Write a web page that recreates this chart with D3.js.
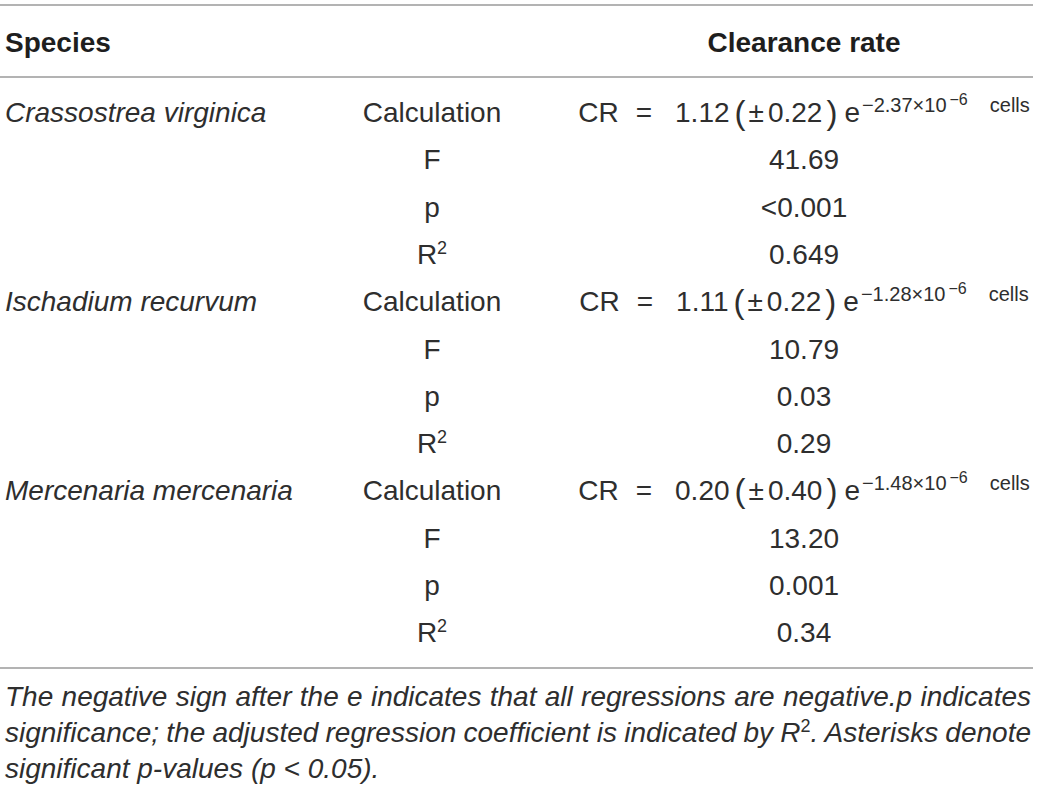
<!DOCTYPE html>
<html>
<head>
<meta charset="utf-8">
<script src="https://cdn.jsdelivr.net/npm/d3@7"></script>
<style>
  html, body { margin: 0; padding: 0; background: #fff; }
  svg { display: block; }
  text { font-family: "Liberation Sans", Arial, Helvetica, sans-serif; fill: #2e2e2e; }
</style>
</head>
<body>
<svg id="chart" width="1039" height="792"></svg>
<script>
// ---- data ----
const headers = ["Species", "Clearance rate"];
const species = ["Crassostrea virginica", "Ischadium recurvum", "Mercenaria mercenaria"];
const statLabels = ["Calculation", "F", "p", "R2"];
const coefValues = ["1.12", "1.11", "0.20"];
const coefErrors = ["0.22", "0.22", "0.40"];
const expValues = ["2.37", "1.28", "1.48"];
const fValues = ["41.69", "10.79", "13.20"];
const pValues = ["<0.001", "0.03", "0.001"];
const r2Values = ["0.649", "0.29", "0.34"];
const captionLines = [
  "The negative sign after the e indicates that all regressions are negative.p indicates",
  "significance; the adjusted regression coefficient is indicated by R2. Asterisks denote",
  "significant p-values (p < 0.05)."
];

// ---- layout ----
const svg = d3.select("#chart");
const FS = 28;

const rows = [];
species.forEach((sp, i) => {
  statLabels.forEach((st, j) => {
    rows.push({ sp: j === 0 ? sp : "", stat: st, si: i, sj: j });
  });
});

const y = d3.scalePoint().domain(d3.range(rows.length)).range([122, 122 + 11 * 47.3]);
const x = d3.scaleOrdinal().domain(["species", "stat", "value"]).range([5, 432, 804]);

const lineColor = "#9a9a9a";
[5, 77, 668].forEach(yy => {
  svg.append("line").attr("x1", 0).attr("x2", 1033).attr("y1", yy).attr("y2", yy)
    .attr("stroke", lineColor).attr("stroke-width", 1.6);
});

// headers
svg.append("text").attr("x", x("species")).attr("y", 52)
  .attr("font-size", FS).attr("font-weight", "bold").style("fill", "#1e1e1e").text(headers[0]);
svg.append("text").attr("x", x("value")).attr("y", 52).attr("text-anchor", "middle")
  .attr("font-size", FS).attr("font-weight", "bold").style("fill", "#1e1e1e").text(headers[1]);

const g = svg.append("g");
const rowG = g.selectAll("g.row").data(rows).join("g").attr("class", "row")
  .attr("transform", (d, i) => `translate(0,${y(i)})`);

// species names
rowG.filter(d => d.sp).append("text").attr("x", x("species"))
  .attr("font-size", FS).attr("font-style", "italic").text(d => d.sp);

// stat labels
rowG.each(function(d) {
  const t = d3.select(this).append("text").attr("x", x("stat")).attr("text-anchor", "middle")
    .attr("font-size", FS);
  if (d.stat === "R2") {
    t.append("tspan").text("R");
    t.append("tspan").attr("font-size", 18).attr("dy", -10).text("2");
  } else {
    t.text(d.stat);
  }
});

// values
rowG.each(function(d) {
  const sel = d3.select(this);
  const i = d.si;
  if (d.sj === 0) {
    const t = sel.append("text").attr("x", 0).attr("font-size", FS);
    t.append("tspan").text("CR");
    t.append("tspan").attr("dx", 17).text("=");
    t.append("tspan").attr("dx", 23).text(coefValues[i]);
    t.append("tspan").attr("dx", 5).attr("font-size", 33).attr("dy", 2).text("(");
    t.append("tspan").attr("dx", 3).attr("dy", -2).text("\u00B1");
    t.append("tspan").attr("dx", 4).text(coefErrors[i]);
    t.append("tspan").attr("dx", 4).attr("font-size", 33).attr("dy", 2).text(")");
    t.append("tspan").attr("dx", 7).attr("dy", -2).text("e");
    t.append("tspan").attr("dx", 2).attr("dy", -10).attr("font-size", 20)
      .text("\u2212" + expValues[i] + "\u00D710");
    t.append("tspan").attr("dx", 3).attr("dy", -7).attr("font-size", 16).text("\u22126");
    t.append("tspan").attr("dx", 22).attr("dy", 7).attr("font-size", 20).text("cells");
    const bb = t.node().getBBox();
    t.attr("x", x("value") - (bb.x + bb.width / 2));
  } else {
    const v = d.sj === 1 ? fValues[i] : d.sj === 2 ? pValues[i] : r2Values[i];
    sel.append("text").attr("x", x("value")).attr("text-anchor", "middle")
      .attr("font-size", FS).text(v);
  }
});

// caption
const capY = d3.scaleLinear().domain([0, 2]).range([706, 778]);
const capLeft = 5, capRight = 1031;
captionLines.forEach((line, k) => {
  const t = svg.append("text").attr("x", capLeft).attr("y", capY(k))
    .attr("font-size", FS).attr("font-style", "italic");
  if (line.includes("R2")) {
    const [a, b] = line.split("R2");
    t.append("tspan").text(a + "R");
    t.append("tspan").attr("font-size", 18).attr("font-style", "normal").attr("dy", -10).text("2");
    t.append("tspan").attr("dy", 10).text(b);
  } else {
    t.text(line);
  }
  if (k < captionLines.length - 1) {
    const nat = t.node().getComputedTextLength();
    const spaces = (line.match(/ /g) || []).length;
    const ws = (capRight - capLeft - nat) / spaces;
    t.attr("word-spacing", ws);
  }
});
</script>
</body>
</html>
